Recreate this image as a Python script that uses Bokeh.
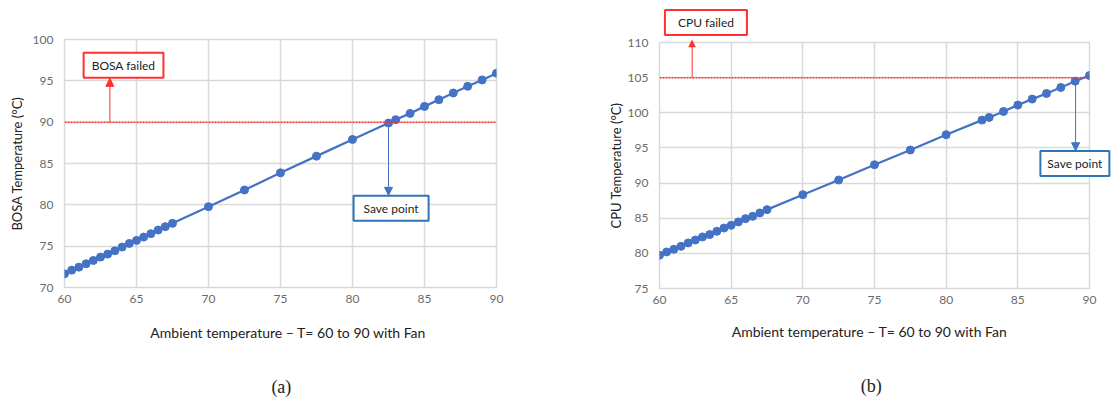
from bokeh.plotting import figure
from bokeh.models import Span, Label, Arrow, NormalHead, FixedTicker, Range1d
from bokeh.layouts import row, column
from bokeh.embed import file_html
from bokeh.resources import INLINE

# ---------------- data ----------------
ambient = [60, 60.5, 61, 61.5, 62, 62.5, 63, 63.5, 64, 64.5, 65, 65.5, 66, 66.5, 67, 67.5,
           70, 72.5, 75, 77.5, 80, 82.5, 83, 84, 85, 86, 87, 88, 89, 90]
bosa_temp = [71.65, 72.1, 72.46, 72.87, 73.27, 73.68, 74.04, 74.44, 74.89, 75.33, 75.70, 76.10,
             76.51, 76.95, 77.36, 77.76, 79.78, 81.8, 83.87, 85.89, 87.91, 89.89, 90.3, 91.06,
             91.91, 92.72, 93.53, 94.34, 95.11, 95.92]
cpu_temp = [79.73, 80.2, 80.58, 81.0, 81.48, 81.9, 82.34, 82.67, 83.14, 83.6, 83.99, 84.47,
            84.94, 85.27, 85.75, 86.22, 88.35, 90.44, 92.61, 94.7, 96.88, 98.96, 99.34, 100.19,
            101.09, 101.95, 102.75, 103.6, 104.5, 105.3]
x_ticks = [60, 65, 70, 75, 80, 85, 90]
bosa_ticks = [70, 75, 80, 85, 90, 95, 100]
cpu_ticks = [75, 80, 85, 90, 95, 100, 105, 110]
bosa_limit = 90
cpu_limit = 105
x_title = "Ambient temperature \u2013  T= 60 to 90 with Fan"

BLUE = "#4472C4"
RED = "#FF3030"
BOXBLUE = "#2E75B6"
GRID = "#D9D9D9"
FONT = "Lato"


def base_fig(ylo, yhi, yticks, ylabel, fw, fh, bl, br, bt, bb, lab_standoff):
    p = figure(frame_width=fw, frame_height=fh, output_backend="svg", toolbar_location=None,
               x_range=Range1d(60, 90), y_range=Range1d(ylo, yhi),
               min_border_left=bl, min_border_right=br, min_border_top=bt, min_border_bottom=bb,
               background_fill_color="white", border_fill_color="white")
    p.outline_line_color = GRID
    p.outline_line_width = 1.5
    p.xaxis.ticker = FixedTicker(ticks=x_ticks)
    p.yaxis.ticker = FixedTicker(ticks=yticks)
    for ax in (p.xaxis[0], p.yaxis[0]):
        ax.axis_line_color = None
        ax.major_tick_line_color = None
        ax.minor_tick_line_color = None
        ax.major_tick_out = 0
        ax.major_tick_in = 0
        ax.minor_tick_out = 0
        ax.minor_tick_in = 0
        ax.major_label_text_font = FONT
        ax.major_label_text_font_size = "12px"
        ax.major_label_text_color = "#6b6b6b"
    p.yaxis.major_label_standoff = 11
    p.xaxis.major_label_standoff = 7
    p.yaxis.axis_label = ylabel
    p.yaxis.axis_label_text_font = FONT
    p.yaxis.axis_label_text_font_style = "normal"
    p.yaxis.axis_label_text_font_size = "13px"
    p.yaxis.axis_label_text_color = "#222222"
    p.yaxis.axis_label_standoff = lab_standoff
    p.xgrid.grid_line_color = GRID
    p.ygrid.grid_line_color = GRID
    p.xgrid.grid_line_width = 1.5
    p.ygrid.grid_line_width = 1.5
    return p


def box_label(x, y, text, color, pad_x, pad_y):
    return Label(x=x, y=y, text=text, text_align="center", text_baseline="middle",
                 text_font=FONT, text_font_size="12px", text_color="#222222",
                 border_line_color=color, border_line_width=2,
                 background_fill_color="white",
                 padding=dict(left=pad_x, right=pad_x, top=pad_y, bottom=pad_y))


def text_label(x, y, text, font, size):
    return Label(x=x, y=y, text=text, text_align="center", text_baseline="middle",
                 text_font=font, text_font_size=size, text_color="#222222")


# ---------------- chart (a) ----------------
p1 = base_fig(70, 100, bosa_ticks, "BOSA Temperature (\u00b0C)", 432, 248, 64, 60, 39, 112, 5)
p1.add_layout(Span(location=bosa_limit, dimension="width", line_color=RED,
                   line_dash="2 1", line_width=1.5))
p1.line(ambient, bosa_temp, line_color=BLUE, line_width=2.25)
p1.scatter(ambient, bosa_temp, size=8, fill_color=BLUE, line_color=BLUE)
p1.add_layout(Arrow(end=NormalHead(size=8, fill_color=RED, line_color=RED),
                    x_start=63.15, y_start=bosa_limit, x_end=63.15, y_end=95.3,
                    line_color=RED, line_width=1))
p1.add_layout(box_label(64.1, 96.9, "BOSA failed", RED, 8, 5))
p1.add_layout(Arrow(end=NormalHead(size=8, fill_color=BLUE, line_color=BLUE),
                    x_start=82.5, y_start=89.89, x_end=82.5, y_end=81.15,
                    line_color=BLUE, line_width=1))
p1.add_layout(box_label(82.68, 79.6, "Save point", BOXBLUE, 10, 5))
p1.add_layout(text_label(75.66, 64.5, x_title, FONT, "14px"), "below")
p1.add_layout(text_label(75.06, 57.98, "(a)", "Liberation Serif", "18px"), "below")

# ---------------- chart (b) ----------------
p2 = base_fig(75, 110, cpu_ticks, "CPU Temperature (\u00b0C)", 430, 246, 103, 23, 42, 111, 1)
p2.add_layout(Span(location=cpu_limit, dimension="width", line_color=RED,
                   line_dash="2 1", line_width=1.5))
p2.line(ambient, cpu_temp, line_color=BLUE, line_width=2.25)
p2.scatter(ambient, cpu_temp, size=8, fill_color=BLUE, line_color=BLUE)
p2.add_layout(Arrow(end=None, x_start=62.28, y_start=cpu_limit, x_end=62.28, y_end=110,
                    line_color=RED, line_width=1))
p2.add_layout(Label(x=62.28, y=110, text="\u25b2", text_align="center",
                    text_baseline="alphabetic", text_font="DejaVu Sans",
                    text_font_size="10px", text_color=RED), "above")
p2.add_layout(box_label(63.24, 112.86, "CPU failed", RED, 13, 5), "above")
p2.add_layout(Arrow(end=NormalHead(size=8, fill_color=BLUE, line_color=BLUE),
                    x_start=89.03, y_start=104.5, x_end=89.03, y_end=94.6,
                    line_color=BLUE, line_width=1))
p2.add_layout(text_label(74.78, 68.9, x_title, FONT, "14px"), "below")
p2.add_layout(text_label(74.78, 61.18, "(b)", "Liberation Serif", "18px"), "below")
p2.add_layout(box_label(88.98, 92.8, "Save point", BOXBLUE, 7, 5), "below")

layout = row(column(p1), column(p2))
open("out.html", "w").write(file_html(layout, INLINE))
